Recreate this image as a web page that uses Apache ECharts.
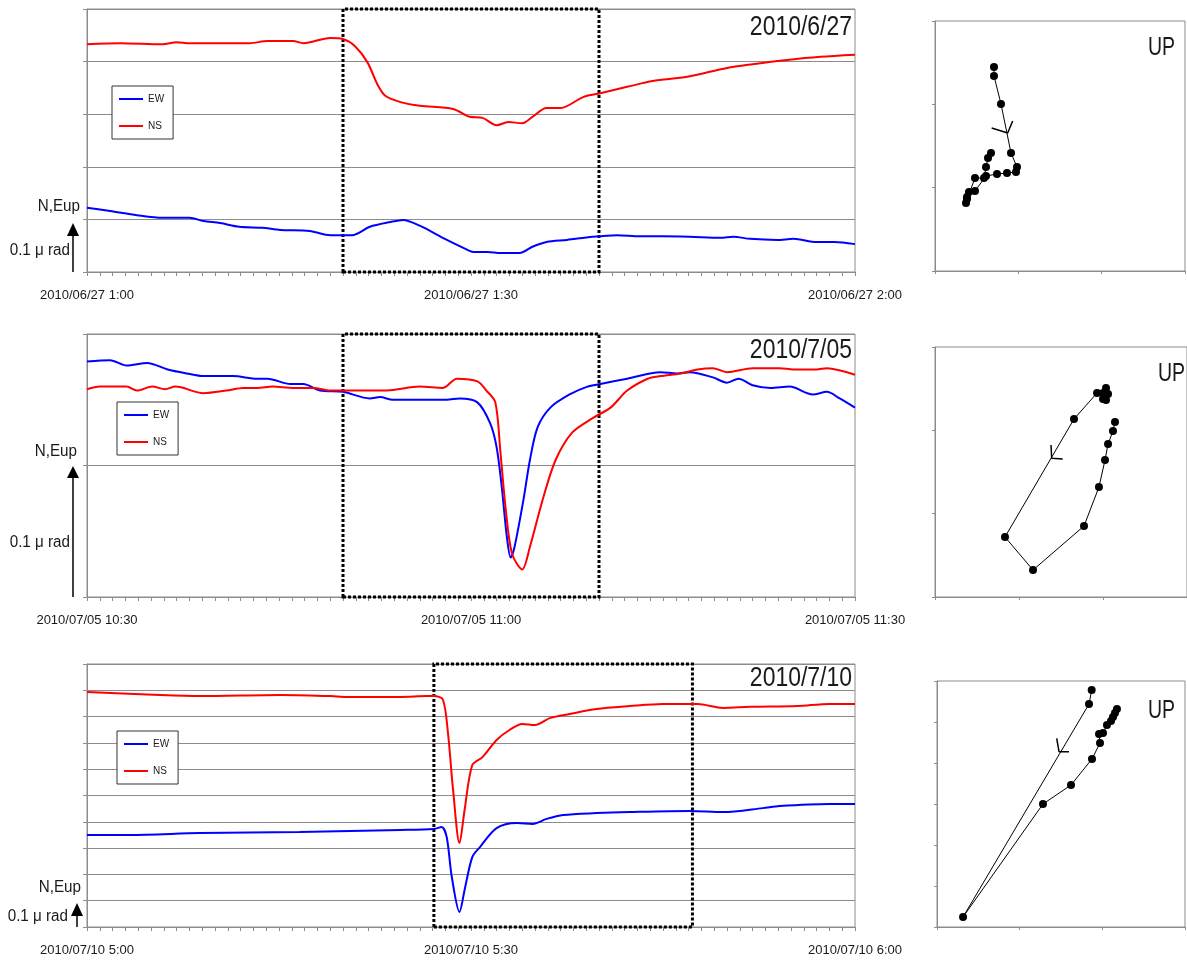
<!DOCTYPE html>
<html>
<head>
<meta charset="utf-8">
<script src="https://cdn.jsdelivr.net/npm/echarts@6/dist/echarts.min.js"></script>
<style>
  html, body { margin: 0; padding: 0; background: #fff; }
  #chart { width: 1187px; height: 963px; }
</style>
</head>
<body>
<div id="chart"></div>
<script>
// ---- event labels -------------------------------------------------------
const TITLES = ['2010/6/27', '2010/7/05', '2010/7/10'];
const TICKS_0627 = ['2010/06/27 1:00', '2010/06/27 1:30', '2010/06/27 2:00'];
const TICKS_0705 = ['2010/07/05 10:30', '2010/07/05 11:00', '2010/07/05 11:30'];
const TICKS_0710 = ['2010/07/10 5:00', '2010/07/10 5:30', '2010/07/10 6:00'];

// ---- tilt records: [minutes from start, tilt in µrad (relative)] --------
const EW_0627 = [[0,0.122],[1.8,0.116],[3.9,0.108],[5.9,0.103],[8.0,0.103],[9.1,0.097],[10.4,0.093],[11.9,0.086],[13.7,0.084],[15.1,0.080],[17.4,0.078],[19.0,0.070],[20.7,0.070],[22.1,0.086],[23.7,0.095],[24.7,0.099],[26.0,0.088],[27.8,0.065],[29.4,0.046],[30.2,0.038],[31.3,0.038],[32.3,0.036],[33.8,0.036],[34.8,0.048],[35.9,0.057],[37.5,0.061],[39.5,0.067],[41.4,0.070],[43.2,0.068],[45.0,0.068],[47.1,0.067],[49.5,0.065],[50.5,0.067],[51.8,0.063],[53.9,0.061],[55.2,0.063],[57.0,0.057],[58.4,0.057],[60,0.053]];
const NS_0627 = [[0,0.433],[2.6,0.435],[5.9,0.433],[7.0,0.437],[8.0,0.435],[12.7,0.435],[14.1,0.439],[16.1,0.439],[16.9,0.435],[19.0,0.445],[20.0,0.443],[20.9,0.430],[21.9,0.399],[22.7,0.356],[23.3,0.335],[24.5,0.323],[26.0,0.316],[28.6,0.310],[29.9,0.295],[30.9,0.293],[32.0,0.279],[32.9,0.285],[34.0,0.283],[34.8,0.295],[35.9,0.312],[37.0,0.312],[38.8,0.333],[40.1,0.340],[42.2,0.352],[44.2,0.363],[46.9,0.371],[50.0,0.388],[52.0,0.395],[54.7,0.403],[57.3,0.409],[60,0.413]];

const EW_0705 = [[0,0.179],[1.8,0.180],[3.1,0.176],[4.7,0.178],[6.3,0.173],[7.8,0.170],[9.1,0.168],[11.4,0.168],[13.3,0.166],[14.1,0.166],[15.9,0.162],[16.9,0.162],[18.2,0.157],[20.0,0.156],[22.1,0.151],[22.9,0.152],[23.9,0.150],[26.0,0.150],[28.1,0.150],[29.1,0.151],[30.5,0.148],[31.5,0.132],[32.0,0.114],[32.4,0.084],[32.8,0.046],[33.1,0.030],[33.4,0.038],[34.1,0.074],[34.6,0.104],[35.2,0.129],[36.2,0.144],[37.7,0.154],[39.1,0.160],[40.1,0.162],[42.2,0.166],[44.8,0.171],[46.1,0.170],[47.1,0.171],[48.9,0.167],[50.0,0.163],[50.9,0.166],[52.0,0.161],[53.4,0.159],[54.9,0.160],[56.7,0.154],[57.8,0.156],[58.8,0.151],[60,0.144]];
const NS_0705 = [[0,0.158],[1.0,0.160],[3.1,0.160],[3.9,0.157],[5.1,0.160],[6.1,0.158],[6.9,0.160],[9.1,0.155],[10.9,0.157],[12.2,0.159],[13.3,0.159],[14.5,0.160],[16.1,0.159],[17.7,0.159],[19.0,0.157],[20.0,0.157],[23.4,0.157],[26.0,0.160],[27.8,0.159],[28.9,0.166],[30.5,0.164],[31.2,0.157],[31.9,0.148],[32.3,0.110],[32.7,0.068],[33.2,0.033],[34.0,0.021],[34.6,0.038],[35.6,0.074],[36.6,0.104],[37.9,0.125],[39.5,0.136],[40.9,0.144],[42.2,0.157],[43.8,0.166],[44.8,0.168],[46.4,0.170],[47.7,0.173],[48.9,0.174],[50.0,0.171],[52.0,0.174],[54.1,0.174],[55.2,0.173],[57.0,0.173],[57.8,0.174],[60,0.169]];

const EW_0710 = [[0,0.350],[3.3,0.350],[8.8,0.357],[16.6,0.361],[24.5,0.369],[27.1,0.373],[27.7,0.380],[28.1,0.342],[28.5,0.190],[29.1,0.057],[29.5,0.141],[30.1,0.266],[30.7,0.304],[32.0,0.376],[33.6,0.395],[34.8,0.392],[35.9,0.411],[37.2,0.426],[39.8,0.433],[42.4,0.437],[47.1,0.441],[49.7,0.437],[52.8,0.452],[54.1,0.460],[58.0,0.468],[60,0.468]];
const NS_0710 = [[0,0.894],[5.7,0.882],[8.8,0.878],[15.1,0.882],[19.0,0.878],[20.3,0.875],[24.5,0.875],[26.6,0.878],[27.1,0.878],[27.8,0.865],[28.2,0.738],[28.6,0.521],[29.1,0.319],[29.5,0.445],[30.1,0.616],[30.9,0.646],[32.0,0.711],[33.0,0.749],[34.0,0.772],[35.0,0.768],[36.2,0.795],[37.7,0.810],[39.8,0.829],[42.4,0.840],[45.0,0.848],[47.7,0.848],[49.7,0.833],[51.8,0.837],[55.5,0.840],[58.0,0.848],[60,0.848]];

// dotted analysis windows (minutes)
const WINDOW_0627 = [20, 40];
const WINDOW_0705 = [20, 40];
const WINDOW_0710 = [27.1, 47.3];
// vertical extent of each record (µrad), split every 0.1
const YMAX_TS = [0.5, 0.2, 1.0];

// ---- tilt-vector traces (EW, NS in grid units) ---------------------------
const UP_0627 = [[0.708,2.448],[0.708,2.340],[0.792,2.004],[0.912,1.416],[0.984,1.248],[0.972,1.188],[0.864,1.176],[0.744,1.164],[0.612,1.140],[0.480,0.960],[0.408,0.948],[0.384,0.888],[0.372,0.816],[0.384,0.864],[0.480,1.116],[0.588,1.116],[0.612,1.248],[0.636,1.356],[0.672,1.416]];
const UP_0627_ARROW = [[0.680,1.716],[0.872,1.656],[0.932,1.800]];
const UP_0705 = [[2.036,2.508],[2.060,2.436],[2.036,2.364],[2.000,2.376],[2.000,2.448],[1.929,2.448],[1.655,2.136],[0.833,0.720],[1.167,0.324],[1.774,0.852],[1.952,1.320],[2.024,1.644],[2.060,1.836],[2.119,1.992],[2.143,2.100]];
const UP_0705_ARROW = [[1.381,1.824],[1.389,1.664],[1.520,1.656]];
const UP_0710 = [[1.871,5.780],[1.839,5.439],[0.315,0.244],[1.282,3.000],[1.621,3.463],[1.875,4.098],[1.972,4.488],[1.960,4.707],[2.008,4.732],[2.056,4.927],[2.105,5.024],[2.129,5.122],[2.153,5.220],[2.177,5.317]];
const UP_0710_ARROW = [[1.448,4.602],[1.476,4.276],[1.597,4.276]];
const YMAX_UP = [3, 3, 6];

// ---- layout ---------------------------------------------------------------
const SANS = "'Liberation Sans', Arial, sans-serif";
const GRID_COLOR = '#8c8c8c';
const TEXT_COLOR = '#1a1a1a';

const rows = [
  { ticks: TICKS_0627, ew: EW_0627, ns: NS_0627, win: WINDOW_0627, up: UP_0627, arrow: UP_0627_ARROW },
  { ticks: TICKS_0705, ew: EW_0705, ns: NS_0705, win: WINDOW_0705, up: UP_0705, arrow: UP_0705_ARROW },
  { ticks: TICKS_0710, ew: EW_0710, ns: NS_0710, win: WINDOW_0710, up: UP_0710, arrow: UP_0710_ARROW }
];
const tsTop = [9, 334, 664];
const upGrid = [
  { left: 935, top: 21, width: 250, height: 250 },
  { left: 935, top: 347, width: 254, height: 250 },
  { left: 937, top: 681, width: 248, height: 246 }
];
const legendPos = [ { left: 112, top: 86 }, { left: 117, top: 402 }, { left: 117, top: 731 } ];
const titleY = [27, 350, 678];
const upLabel = [ { x: 1148, y: 48 }, { x: 1158, y: 374 }, { x: 1148, y: 711 } ];
// scale marker: label positions and arrow geometry
const scaleMark = [
  { nx: 80, ny: 207, rx: 70, ry: 251, sx: 73, y0: 272, y1: 236, tip: 223, hw: 6 },
  { nx: 77, ny: 452, rx: 70, ry: 543, sx: 73, y0: 597, y1: 478, tip: 466, hw: 6 },
  { nx: 81, ny: 888, rx: 68, ry: 917, sx: 77, y0: 927, y1: 916, tip: 903, hw: 6 }
];

const grid = [], xAxis = [], yAxis = [], series = [], legend = [], graphic = [];

rows.forEach((r, i) => {
  const t = 2 * i;      // time-series grid / axes
  const g = 2 * i + 1;  // tilt-vector grid / axes

  // time-series panel
  grid.push({ left: 87, top: tsTop[i], width: 768, height: 263, show: true, borderColor: GRID_COLOR, borderWidth: 1 });
  xAxis.push({
    type: 'value', gridIndex: t, min: 0, max: 60, interval: 1,
    axisLine: { show: true, lineStyle: { color: GRID_COLOR } },
    axisTick: { show: true, length: 4, lineStyle: { color: GRID_COLOR } },
    splitLine: { show: false },
    axisLabel: {
      margin: 17, color: TEXT_COLOR, fontFamily: SANS, fontSize: 13,
      formatter: v => (v % 30 === 0 ? r.ticks[v / 30] : '')
    }
  });
  yAxis.push({
    type: 'value', gridIndex: t, min: 0, max: YMAX_TS[i], interval: 0.1,
    axisLine: { show: true, lineStyle: { color: GRID_COLOR } },
    axisTick: { show: true, length: 4, lineStyle: { color: GRID_COLOR } },
    axisLabel: { show: false },
    splitLine: { show: true, lineStyle: { color: GRID_COLOR, width: 1 } }
  });

  // tilt-vector panel
  grid.push(Object.assign({ show: true, borderColor: GRID_COLOR, borderWidth: 1 }, upGrid[i]));
  xAxis.push({
    type: 'value', gridIndex: g, min: 0, max: 3, interval: 1,
    axisLine: { show: true, lineStyle: { color: GRID_COLOR } },
    axisTick: { show: true, length: 3, lineStyle: { color: GRID_COLOR } },
    axisLabel: { show: false }, splitLine: { show: false }
  });
  yAxis.push({
    type: 'value', gridIndex: g, min: 0, max: YMAX_UP[i], interval: 1,
    axisLine: { show: true, lineStyle: { color: GRID_COLOR } },
    axisTick: { show: true, length: 3, lineStyle: { color: GRID_COLOR } },
    axisLabel: { show: false }, splitLine: { show: false }
  });

  series.push({
    name: 'EW', type: 'line', xAxisIndex: t, yAxisIndex: t, data: r.ew,
    smooth: 0.3, symbol: 'none', color: '#0000ff', lineStyle: { width: 2, color: '#0000ff' },
    markArea: {
      silent: true,
      itemStyle: { color: 'rgba(0,0,0,0)', borderColor: '#000', borderWidth: 3, borderType: [3, 2] },
      data: [[{ xAxis: r.win[0] }, { xAxis: r.win[1] }]]
    },
    z: 3
  });
  series.push({
    name: 'NS', type: 'line', xAxisIndex: t, yAxisIndex: t, data: r.ns,
    smooth: 0.3, symbol: 'none', color: '#ff0000', lineStyle: { width: 2, color: '#ff0000' }, z: 3
  });
  series.push({
    type: 'line', xAxisIndex: g, yAxisIndex: g, data: r.up,
    symbol: 'circle', symbolSize: 8, color: '#000',
    itemStyle: { color: '#000' }, lineStyle: { color: '#000', width: 1 }
  });
  series.push({
    type: 'line', xAxisIndex: g, yAxisIndex: g, data: r.arrow,
    symbol: 'none', lineStyle: { color: '#000', width: 1.5 }
  });

  legend.push({
    data: ['EW', 'NS'], orient: 'vertical', left: legendPos[i].left, top: legendPos[i].top,
    icon: 'rect', itemWidth: 24, itemHeight: 2, itemGap: 17,
    padding: [8, 9, 8, 7], borderColor: '#333', borderWidth: 1, backgroundColor: '#fff',
    textStyle: { fontFamily: SANS, fontSize: 10, color: TEXT_COLOR },
    selectedMode: false
  });

  // texts (narrowed horizontally to the condensed lettering)
  graphic.push({
    type: 'text', x: 852, y: titleY[i], scaleX: 0.82,
    style: { text: TITLES[i], fontFamily: SANS, fontSize: 28, fill: TEXT_COLOR, align: 'right', verticalAlign: 'middle' }
  });
  graphic.push({
    type: 'text', x: upLabel[i].x, y: upLabel[i].y, scaleX: 0.78,
    style: { text: 'UP', fontFamily: SANS, fontSize: 25, fill: TEXT_COLOR, verticalAlign: 'middle' }
  });
  const s = scaleMark[i];
  graphic.push({
    type: 'text', x: s.nx, y: s.ny, scaleX: 0.95,
    style: { text: 'N,Eup', fontFamily: SANS, fontSize: 16, fill: TEXT_COLOR, align: 'right', verticalAlign: 'middle' }
  });
  graphic.push({
    type: 'text', x: s.rx, y: s.ry, scaleX: 0.95,
    style: { text: '0.1 μ rad', fontFamily: SANS, fontSize: 16, fill: TEXT_COLOR, align: 'right', verticalAlign: 'middle' }
  });
  graphic.push({
    type: 'line', shape: { x1: s.sx, y1: s.y0, x2: s.sx, y2: s.y1 },
    style: { stroke: '#000', lineWidth: 1.5 }
  });
  graphic.push({
    type: 'polygon', shape: { points: [[s.sx, s.tip], [s.sx - s.hw, s.y1], [s.sx + s.hw, s.y1]] },
    style: { fill: '#000' }
  });
});

const chart = echarts.init(document.getElementById('chart'), null, { renderer: 'canvas' });
chart.setOption({
  animation: false,
  backgroundColor: '#fff',
  grid, xAxis, yAxis, series, legend, graphic
});
</script>
</body>
</html>
